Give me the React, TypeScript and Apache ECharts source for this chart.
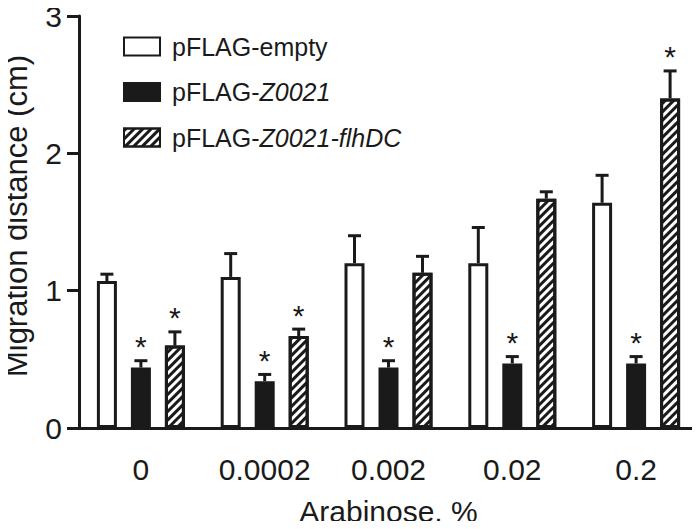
import React, { useEffect, useRef } from "react";
import * as echarts from "echarts";

const categories = ["0", "0.0002", "0.002", "0.02", "0.2"];
const seriesNames = ["pFLAG-empty", "pFLAG-Z0021", "pFLAG-Z0021-flhDC"];
const emptyVals = [1.07, 1.1, 1.2, 1.2, 1.64];
const emptySD = [0.05, 0.17, 0.2, 0.26, 0.2];
const z0021Vals = [0.44, 0.34, 0.44, 0.47, 0.47];
const z0021SD = [0.05, 0.05, 0.05, 0.05, 0.05];
const flhdcVals = [0.6, 0.67, 1.13, 1.67, 2.4];
const flhdcSD = [0.1, 0.05, 0.12, 0.05, 0.2];
const emptySig = [0, 0, 0, 0, 0];
const z0021Sig = [1, 1, 1, 1, 1];
const flhdcSig = [1, 1, 0, 0, 1];
const yTicks = [0, 1, 2, 3];
const yAxisTitle = "Migration distance (cm)";
const xAxisTitle = "Arabinose, %";

const INK = "#1a1a1a";
const FONT = "'Liberation Sans', Arial, Helvetica, sans-serif";
const BAR_W = 20;
const BAR_GAP = 0.7; // fraction of bar width
const STEP = BAR_W * (1 + BAR_GAP);

function errSeries(vals: number[], sd: number[], sig: number[], offset: number) {
  return {
    type: "custom",
    silent: true,
    z: 5,
    data: vals.map((v, i) => [i, v, v + sd[i], sig[i]]),
    renderItem: (params: any, api: any) => {
      const x = api.coord([api.value(0), 0])[0] + offset;
      const yTop = api.coord([api.value(0), api.value(1)])[1];
      const yErr = api.coord([api.value(0), api.value(2)])[1];
      const children: any[] = [
        { type: "line", shape: { x1: x, y1: yTop, x2: x, y2: yErr }, style: { stroke: INK, lineWidth: 3 } },
        { type: "line", shape: { x1: x - 6.5, y1: yErr, x2: x + 6.5, y2: yErr }, style: { stroke: INK, lineWidth: 3 } },
      ];
      if (api.value(3)) {
        children.push({
          type: "text",
          x: x,
          y: yErr - 14,
          style: { text: "*", fontSize: 30, fontFamily: FONT, fill: INK, align: "center", verticalAlign: "middle" },
        });
      }
      return { type: "group", children };
    },
  };
}

export default function App() {
  const ref = useRef<HTMLDivElement>(null);
  useEffect(() => {
    const chart = echarts.init(ref.current!, null, { renderer: "svg" });
    const legendRich = {
      n: { fontSize: 25, fontFamily: FONT, color: INK, lineHeight: 25 },
      i: { fontSize: 25, fontFamily: FONT, color: INK, fontStyle: "italic", lineHeight: 25 },
    };
    chart.setOption({
      animation: false,
      backgroundColor: "#fff",
      grid: { left: 79, right: 2, top: 16, bottom: 101, containLabel: false, outerBoundsMode: "none" },
      graphic: [
        {
          type: "text",
          x: 16,
          y: 216,
          rotation: Math.PI / 2,
          style: {
            text: yAxisTitle,
            fontSize: 31,
            fontFamily: FONT,
            fill: INK,
            align: "center",
            verticalAlign: "middle",
          },
        },
      ],
      legend: {
        orient: "vertical",
        left: 118,
        top: 29,
        itemWidth: 36,
        itemHeight: 18,
        itemGap: 20.5,
        icon: "rect",
        data: seriesNames,
        formatter: (name: string) => {
          if (name === seriesNames[0]) return "{n|pFLAG-empty}";
          if (name === seriesNames[1]) return "{n|pFLAG-}{i|Z0021}";
          return "{n|pFLAG-}{i|Z0021-flhDC}";
        },
        textStyle: { padding: [0, 0, 0, 7], rich: legendRich, fontSize: 25, lineHeight: 25 },
        selectedMode: false,
      },
      xAxis: {
        type: "category",
        data: categories,
        name: xAxisTitle,
        nameLocation: "middle",
        nameGap: 68,
        nameTextStyle: { fontSize: 30, fontFamily: FONT, color: INK, lineHeight: 30 },
        axisLine: { lineStyle: { color: INK, width: 3 } },
        axisTick: { alignWithLabel: true, length: 13, lineStyle: { color: INK, width: 3 } },
        axisLabel: { interval: 0, fontSize: 30, fontFamily: FONT, color: INK, margin: 26, lineHeight: 30 },
      },
      yAxis: {
        type: "value",
        min: yTicks[0],
        max: yTicks[yTicks.length - 1],
        interval: 1,
        axisLine: { show: true, lineStyle: { color: INK, width: 3 } },
        axisTick: { show: true, length: 12, lineStyle: { color: INK, width: 3 } },
        axisLabel: { fontSize: 30, fontFamily: FONT, color: INK, margin: 17 },
        splitLine: { show: false },
      },
      series: [
        {
          name: seriesNames[0],
          type: "bar",
          data: emptyVals,
          barWidth: BAR_W,
          barGap: BAR_GAP * 100 + "%",
          itemStyle: { color: "#ffffff", borderColor: INK, borderWidth: 3 },
        },
        {
          name: seriesNames[1],
          type: "bar",
          data: z0021Vals,
          barWidth: BAR_W,
          barGap: BAR_GAP * 100 + "%",
          itemStyle: { color: INK, borderColor: INK, borderWidth: 3 },
        },
        {
          name: seriesNames[2],
          type: "bar",
          data: flhdcVals,
          barWidth: BAR_W,
          barGap: BAR_GAP * 100 + "%",
          itemStyle: {
            color: "#ffffff",
            borderColor: INK,
            borderWidth: 3,
            decal: {
              symbol: "rect",
              symbolSize: 1,
              dashArrayX: [1, 0],
              dashArrayY: [3, 3],
              rotation: -Math.PI / 4,
              color: INK,
              backgroundColor: "#ffffff",
            },
          },
        },
        errSeries(emptyVals, emptySD, emptySig, -STEP),
        errSeries(z0021Vals, z0021SD, z0021Sig, 0),
        errSeries(flhdcVals, flhdcSD, flhdcSig, STEP),
      ],
    });
    return () => chart.dispose();
  }, []);
  return <div ref={ref} style={{ width: 700, height: 529, margin: -8 }} />;
}
